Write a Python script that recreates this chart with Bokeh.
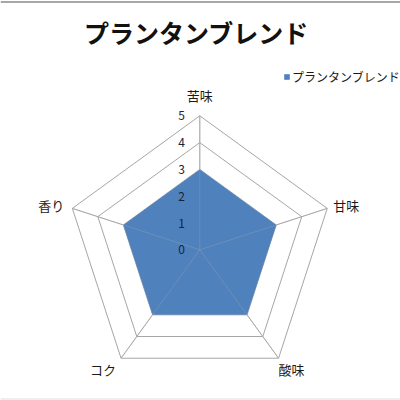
import numpy as np
from bokeh.plotting import figure
from bokeh.models import Range1d, Label, Legend, LegendItem, ColumnDataSource, Span
from bokeh.core.properties import value
from bokeh.embed import file_html
from bokeh.resources import INLINE

title_text = "プランタンブレンド"
series_name = "プランタンブレンド"
categories = ["苦味", "甘味", "酸味", "コク", "香り"]
values = [3, 3, 3, 3, 3]
tick_values = [0, 1, 2, 3, 4, 5]
tick_labels = ["0", "1", "2", "3", "4", "5"]

FONT = "Noto Sans CJK JP"
CX, CY, U = 199.3, 249.3, 26.8   # centre (px) and px per unit
OFF = 0
W = H = 400
RMAX = max(tick_values)

p = figure(width=W, height=H, output_backend="svg", toolbar_location=None,
           x_range=Range1d((OFF - CX) / U, (OFF + W - CX) / U),
           y_range=Range1d((CY - OFF - H) / U, (CY - OFF) / U),
           min_border=0)
p.axis.visible = False
p.grid.visible = False
p.outline_line_color = None
p.background_fill_color = "white"

# frame lines (top dark, bottom faint)
p.add_layout(Span(location=(CY - 1.5) / U, dimension="width",
                  line_color="#8a8a8a", line_width=1.5))
p.add_layout(Span(location=(CY - 398.5) / U, dimension="width",
                  line_color="#dddddd", line_width=1))

n = len(categories)
angles = np.pi / 2 - 2 * np.pi * np.arange(n) / n
cosa, sina = np.cos(angles), np.sin(angles)

# rings
ring_xs, ring_ys = [], []
for k in tick_values[1:]:
    ring_xs.append(list(k * cosa) + [k * cosa[0]])
    ring_ys.append(list(k * sina) + [k * sina[0]])
p.multi_line(ring_xs, ring_ys, line_color="#a6a6a6", line_width=1)

# spokes under
spoke_xs = [[0, RMAX * c] for c in cosa]
spoke_ys = [[0, RMAX * s] for s in sina]
p.multi_line(spoke_xs, spoke_ys, line_color="#a6a6a6", line_width=1)

# data fill
vx = [v * c for v, c in zip(values, cosa)]
vy = [v * s for v, s in zip(values, sina)]
area = p.patch(vx, vy, fill_color="#4F81BD", line_color=None)

# spokes over fill (faint)
p.multi_line(spoke_xs, spoke_ys, line_color="#a6a6a6", line_alpha=0.35, line_width=1)

# tick labels
p.text(x=[-15 / U] * len(tick_values), y=tick_values, text=tick_labels,
       text_font=value(FONT), text_font_size="12px", text_color="#1a2438",
       text_align="right", text_baseline="middle")

# category labels
offs = [(0, -11), (6, -3), (0, 2), (-5, 2), (-8, -3)]
aligns = ["center", "left", "left", "right", "right"]
bases = ["bottom", "middle", "top", "top", "middle"]
lx = [RMAX * c + dx / U for c, (dx, dy) in zip(cosa, offs)]
ly = [RMAX * s - dy / U for s, (dx, dy) in zip(sina, offs)]
src = ColumnDataSource(dict(x=lx, y=ly, t=categories, a=aligns, b=bases))
p.text(x="x", y="y", text="t", source=src, text_align="a", text_baseline="b",
       text_font=value(FONT), text_font_size="13px", text_color="#1a1a1a")

# title
p.add_layout(Label(x=(196 - CX) / U, y=(CY - 31) / U, text=title_text,
                   text_font=FONT, text_font_size="25px", text_font_style="bold",
                   text_color="#111111", text_align="center", text_baseline="middle"))

# legend
legend = Legend(items=[LegendItem(label=series_name, renderers=[area])],
                location=(283 - OFF, H - 85 + OFF), padding=0, margin=0, spacing=0,
                glyph_width=7, glyph_height=7, label_standoff=2,
                label_height=12, label_text_font=FONT, label_text_font_size="12px",
                label_text_color="#1a1a1a", border_line_color=None,
                background_fill_alpha=0)
p.add_layout(legend)

open("out.html", "w").write(file_html(p, INLINE))
